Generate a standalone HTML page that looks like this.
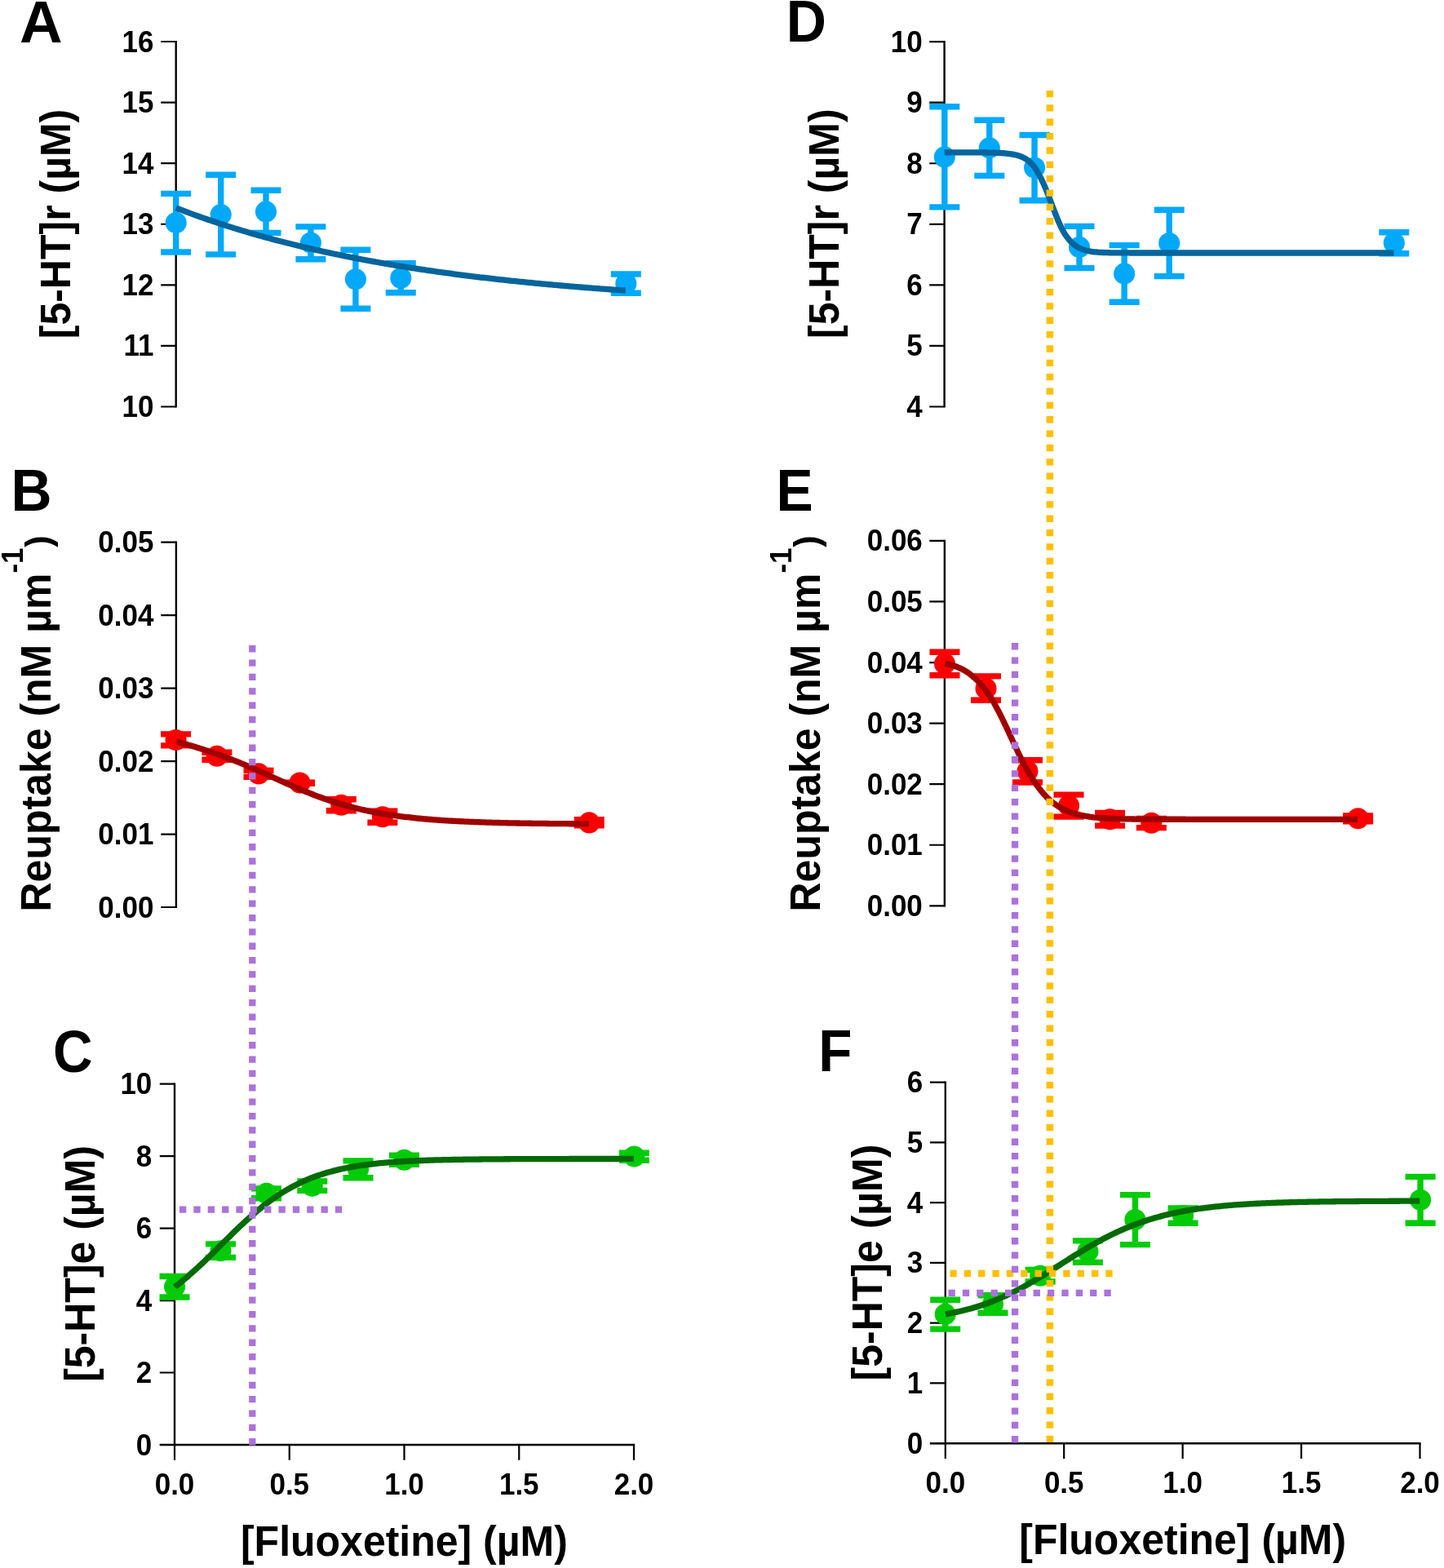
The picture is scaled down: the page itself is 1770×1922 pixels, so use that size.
<!DOCTYPE html>
<html lang="en">
<head>
<meta charset="utf-8">
<title>Fluoxetine dose-response: [5-HT]r, reuptake and [5-HT]e</title>
<style>
html,body{margin:0;padding:0;background:#fff;}
body{width:1770px;height:1922px;overflow:hidden;}
svg{display:block;}
svg text{font-family:"Liberation Sans", sans-serif;font-weight:bold;fill:#000;}
</style>
</head>
<body>
<svg width="1770" height="1922" viewBox="0 0 1770 1922">
<rect width="1770" height="1922" fill="#fff"/>
<path d="M215.7 49.9V499.6" stroke="#000" stroke-width="2.4" fill="none"/>
<text transform="translate(188.4 63.5) scale(1 1.04)" text-anchor="end" font-size="35">16</text>
<text transform="translate(188.4 138.08) scale(1 1.04)" text-anchor="end" font-size="35">15</text>
<text transform="translate(188.4 212.67) scale(1 1.04)" text-anchor="end" font-size="35">14</text>
<text transform="translate(188.4 287.25) scale(1 1.04)" text-anchor="end" font-size="35">13</text>
<text transform="translate(188.4 361.83) scale(1 1.04)" text-anchor="end" font-size="35">12</text>
<text transform="translate(188.4 436.42) scale(1 1.04)" text-anchor="end" font-size="35">11</text>
<text transform="translate(188.4 511) scale(1 1.04)" text-anchor="end" font-size="35">10</text>
<path d="M197.2 51H215.7M197.2 125.58H215.7M197.2 200.17H215.7M197.2 274.75H215.7M197.2 349.33H215.7M197.2 423.92H215.7M197.2 498.5H215.7" stroke="#000" stroke-width="2.2" fill="none"/>
<text transform="translate(24.1 51.5) scale(1.04 1.04)" font-size="70">A</text>
<text transform="translate(85.8 274.5) rotate(-90) scale(1 1.04)" text-anchor="middle" font-size="50">[5-HT]r (µM)</text>
<path d="M215.9 663.6V1113.1" stroke="#000" stroke-width="2.4" fill="none"/>
<text transform="translate(188.4 677.2) scale(1 1.04)" text-anchor="end" font-size="35">0.05</text>
<text transform="translate(188.4 766.66) scale(1 1.04)" text-anchor="end" font-size="35">0.04</text>
<text transform="translate(188.4 856.12) scale(1 1.04)" text-anchor="end" font-size="35">0.03</text>
<text transform="translate(188.4 945.58) scale(1 1.04)" text-anchor="end" font-size="35">0.02</text>
<text transform="translate(188.4 1035.04) scale(1 1.04)" text-anchor="end" font-size="35">0.01</text>
<text transform="translate(188.4 1124.5) scale(1 1.04)" text-anchor="end" font-size="35">0.00</text>
<path d="M197.3 664.7H215.9M197.3 754.16H215.9M197.3 843.62H215.9M197.3 933.08H215.9M197.3 1022.54H215.9M197.3 1112H215.9" stroke="#000" stroke-width="2.2" fill="none"/>
<text transform="translate(13.4 625.8) scale(0.99 1.04)" font-size="70">B</text>
<text transform="translate(62 1117.5) rotate(-90) scale(1 1.04)" text-anchor="start" font-size="50">Reuptake (nM µm</text>
<text transform="translate(27.9 702.6) rotate(-90) scale(1 1.04)" text-anchor="start" font-size="35">-1</text>
<text transform="translate(61.7 670.8) rotate(-90) scale(1 1.04)" text-anchor="start" font-size="43">)</text>
<path d="M214 1327.5V1772.1" stroke="#000" stroke-width="2.4" fill="none"/>
<text transform="translate(186.3 1341.1) scale(1 1.04)" text-anchor="end" font-size="35">10</text>
<text transform="translate(186.3 1429.58) scale(1 1.04)" text-anchor="end" font-size="35">8</text>
<text transform="translate(186.3 1518.06) scale(1 1.04)" text-anchor="end" font-size="35">6</text>
<text transform="translate(186.3 1606.54) scale(1 1.04)" text-anchor="end" font-size="35">4</text>
<text transform="translate(186.3 1695.02) scale(1 1.04)" text-anchor="end" font-size="35">2</text>
<text transform="translate(186.3 1783.5) scale(1 1.04)" text-anchor="end" font-size="35">0</text>
<path d="M195.8 1328.6H214M195.8 1417.08H214M195.8 1505.56H214M195.8 1594.04H214M195.8 1682.52H214M195.8 1771H214" stroke="#000" stroke-width="2.2" fill="none"/>
<path d="M195.8 1771H778.1" stroke="#000" stroke-width="2.4" fill="none"/>
<text transform="translate(214 1831.9) scale(1 1.04)" text-anchor="middle" font-size="35">0.0</text>
<text transform="translate(354.75 1831.9) scale(1 1.04)" text-anchor="middle" font-size="35">0.5</text>
<text transform="translate(495.5 1831.9) scale(1 1.04)" text-anchor="middle" font-size="35">1.0</text>
<text transform="translate(636.25 1831.9) scale(1 1.04)" text-anchor="middle" font-size="35">1.5</text>
<text transform="translate(777 1831.9) scale(1 1.04)" text-anchor="middle" font-size="35">2.0</text>
<path d="M214 1771V1789.7M354.75 1771V1789.7M495.5 1771V1789.7M636.25 1771V1789.7M777 1771V1789.7" stroke="#000" stroke-width="2.2" fill="none"/>
<text transform="translate(495.4 1906.8) scale(1 1.04)" text-anchor="middle" font-size="50">[Fluoxetine] (µM)</text>
<text transform="translate(64.95 1313.8) scale(0.96 1.04)" font-size="70">C</text>
<text transform="translate(116.1 1548.95) rotate(-90) scale(1 1.04)" text-anchor="middle" font-size="50">[5-HT]e (µM)</text>
<path d="M1157.6 50V499.6" stroke="#000" stroke-width="2.4" fill="none"/>
<text transform="translate(1130.6 63.6) scale(1 1.04)" text-anchor="end" font-size="35">10</text>
<text transform="translate(1130.6 138.17) scale(1 1.04)" text-anchor="end" font-size="35">9</text>
<text transform="translate(1130.6 212.73) scale(1 1.04)" text-anchor="end" font-size="35">8</text>
<text transform="translate(1130.6 287.3) scale(1 1.04)" text-anchor="end" font-size="35">7</text>
<text transform="translate(1130.6 361.87) scale(1 1.04)" text-anchor="end" font-size="35">6</text>
<text transform="translate(1130.6 436.43) scale(1 1.04)" text-anchor="end" font-size="35">5</text>
<text transform="translate(1130.6 511) scale(1 1.04)" text-anchor="end" font-size="35">4</text>
<path d="M1139.2 51.1H1157.6M1139.2 125.67H1157.6M1139.2 200.23H1157.6M1139.2 274.8H1157.6M1139.2 349.37H1157.6M1139.2 423.93H1157.6M1139.2 498.5H1157.6" stroke="#000" stroke-width="2.2" fill="none"/>
<text transform="translate(963.75 51) scale(0.972 1.04)" font-size="70">D</text>
<text transform="translate(1028 274.2) rotate(-90) scale(1 1.04)" text-anchor="middle" font-size="50">[5-HT]r (µM)</text>
<path d="M1157.85 661.8V1111.4" stroke="#000" stroke-width="2.4" fill="none"/>
<text transform="translate(1130.8 675.4) scale(1 1.04)" text-anchor="end" font-size="35">0.06</text>
<text transform="translate(1130.8 749.97) scale(1 1.04)" text-anchor="end" font-size="35">0.05</text>
<text transform="translate(1130.8 824.53) scale(1 1.04)" text-anchor="end" font-size="35">0.04</text>
<text transform="translate(1130.8 899.1) scale(1 1.04)" text-anchor="end" font-size="35">0.03</text>
<text transform="translate(1130.8 973.67) scale(1 1.04)" text-anchor="end" font-size="35">0.02</text>
<text transform="translate(1130.8 1048.23) scale(1 1.04)" text-anchor="end" font-size="35">0.01</text>
<text transform="translate(1130.8 1122.8) scale(1 1.04)" text-anchor="end" font-size="35">0.00</text>
<path d="M1139.3 662.9H1157.85M1139.3 737.47H1157.85M1139.3 812.03H1157.85M1139.3 886.6H1157.85M1139.3 961.17H1157.85M1139.3 1035.73H1157.85M1139.3 1110.3H1157.85" stroke="#000" stroke-width="2.2" fill="none"/>
<text transform="translate(951.6 625.5) scale(0.967 1.04)" font-size="70">E</text>
<text transform="translate(1004.5 1117.5) rotate(-90) scale(1 1.04)" text-anchor="start" font-size="50">Reuptake (nM µm</text>
<text transform="translate(970.4 702.6) rotate(-90) scale(1 1.04)" text-anchor="start" font-size="35">-1</text>
<text transform="translate(1004.2 670.8) rotate(-90) scale(1 1.04)" text-anchor="start" font-size="43">)</text>
<path d="M1158.8 1325.5V1770.3" stroke="#000" stroke-width="2.4" fill="none"/>
<text transform="translate(1131.2 1339.1) scale(1 1.04)" text-anchor="end" font-size="35">6</text>
<text transform="translate(1131.2 1412.87) scale(1 1.04)" text-anchor="end" font-size="35">5</text>
<text transform="translate(1131.2 1486.63) scale(1 1.04)" text-anchor="end" font-size="35">4</text>
<text transform="translate(1131.2 1560.4) scale(1 1.04)" text-anchor="end" font-size="35">3</text>
<text transform="translate(1131.2 1634.17) scale(1 1.04)" text-anchor="end" font-size="35">2</text>
<text transform="translate(1131.2 1707.93) scale(1 1.04)" text-anchor="end" font-size="35">1</text>
<text transform="translate(1131.2 1781.7) scale(1 1.04)" text-anchor="end" font-size="35">0</text>
<path d="M1139.9 1326.6H1158.8M1139.9 1400.37H1158.8M1139.9 1474.13H1158.8M1139.9 1547.9H1158.8M1139.9 1621.67H1158.8M1139.9 1695.43H1158.8M1139.9 1769.2H1158.8" stroke="#000" stroke-width="2.2" fill="none"/>
<path d="M1139.9 1769.2H1741.6" stroke="#000" stroke-width="2.4" fill="none"/>
<text transform="translate(1158.8 1830.1) scale(1 1.04)" text-anchor="middle" font-size="35">0.0</text>
<text transform="translate(1304.2 1830.1) scale(1 1.04)" text-anchor="middle" font-size="35">0.5</text>
<text transform="translate(1449.65 1830.1) scale(1 1.04)" text-anchor="middle" font-size="35">1.0</text>
<text transform="translate(1595.1 1830.1) scale(1 1.04)" text-anchor="middle" font-size="35">1.5</text>
<text transform="translate(1740.5 1830.1) scale(1 1.04)" text-anchor="middle" font-size="35">2.0</text>
<path d="M1158.8 1769.2V1788M1304.2 1769.2V1788M1449.65 1769.2V1788M1595.1 1769.2V1788M1740.5 1769.2V1788" stroke="#000" stroke-width="2.2" fill="none"/>
<text transform="translate(1449.7 1905.2) scale(1 1.04)" text-anchor="middle" font-size="50">[Fluoxetine] (µM)</text>
<text transform="translate(1003.3 1313.4) scale(0.963 1.04)" font-size="70">F</text>
<text transform="translate(1080.6 1547.5) rotate(-90) scale(1 1.04)" text-anchor="middle" font-size="50">[5-HT]e (µM)</text>
<path d="M215.7 237.4V309M197.2 237.4h37M197.2 309h37M270.7 214.3V311.9M252.2 214.3h37M252.2 311.9h37M326 233.2V285.4M307.5 233.2h37M307.5 285.4h37M380.9 277.9V317.8M362.4 277.9h37M362.4 317.8h37M435.9 306.3V378.3M417.4 306.3h37M417.4 378.3h37M491.3 322.8V358.7M472.8 322.8h37M472.8 358.7h37M767.3 336V359.2M748.8 336h37M748.8 359.2h37" stroke="#03A9F9" stroke-width="7.4" fill="none"/>
<circle cx="215.7" cy="273.1" r="13.05" fill="#03A9F9"/>
<circle cx="270.7" cy="263.1" r="13.05" fill="#03A9F9"/>
<circle cx="326" cy="259.4" r="13.05" fill="#03A9F9"/>
<circle cx="380.9" cy="297.6" r="13.05" fill="#03A9F9"/>
<circle cx="435.9" cy="342.3" r="13.05" fill="#03A9F9"/>
<circle cx="491.3" cy="340.7" r="13.05" fill="#03A9F9"/>
<circle cx="767.3" cy="347.4" r="13.05" fill="#03A9F9"/>
<path d="M215.6 899.9V913.9M197.1 899.9h37M197.1 913.9h37M265.9 922.3V931.2M247.4 922.3h37M247.4 931.2h37M317 944.4V952.4M298.5 944.4h37M298.5 952.4h37M367.5 959.1V960.3M349 959.1h37M349 960.3h37M418.3 979.8V993.8M399.8 979.8h37M399.8 993.8h37M468.9 994.1V1008.3M450.4 994.1h37M450.4 1008.3h37M722.2 1004.8V1011.9M703.7 1004.8h37M703.7 1011.9h37" stroke="#FB0000" stroke-width="7.4" fill="none"/>
<circle cx="215.6" cy="907" r="13.05" fill="#FB0000"/>
<circle cx="265.9" cy="926.7" r="13.05" fill="#FB0000"/>
<circle cx="317" cy="948.4" r="13.05" fill="#FB0000"/>
<circle cx="367.5" cy="959.6" r="13.05" fill="#FB0000"/>
<circle cx="418.3" cy="986.8" r="13.05" fill="#FB0000"/>
<circle cx="468.9" cy="1001.2" r="13.05" fill="#FB0000"/>
<circle cx="722.2" cy="1008.4" r="13.05" fill="#FB0000"/>
<path d="M214.05 1564.5V1590M195.55 1564.5h37M195.55 1590h37M270.5 1524.9V1541.4M252 1524.9h37M252 1541.4h37M326.55 1456.9V1468.7M308.05 1456.9h37M308.05 1468.7h37M382.8 1448V1459.4M364.3 1448h37M364.3 1459.4h37M439 1422.9V1443.7M420.5 1422.9h37M420.5 1443.7h37M495.5 1416.3V1427.3M477 1416.3h37M477 1427.3h37M777.3 1413.2V1422.3M758.8 1413.2h37M758.8 1422.3h37" stroke="#04CB08" stroke-width="7.4" fill="none"/>
<circle cx="214.05" cy="1577.2" r="13.05" fill="#04CB08"/>
<circle cx="270.5" cy="1533.2" r="13.05" fill="#04CB08"/>
<circle cx="326.55" cy="1462.8" r="13.05" fill="#04CB08"/>
<circle cx="382.8" cy="1453.7" r="13.05" fill="#04CB08"/>
<circle cx="439" cy="1433.3" r="13.05" fill="#04CB08"/>
<circle cx="495.5" cy="1421.7" r="13.05" fill="#04CB08"/>
<circle cx="777.3" cy="1417.6" r="13.05" fill="#04CB08"/>
<path d="M1157.8 130.8V253.9M1139.3 130.8h37M1139.3 253.9h37M1212.8 147.2V215.35M1194.3 147.2h37M1194.3 215.35h37M1268.05 165.5V245.8M1249.55 165.5h37M1249.55 245.8h37M1323 277.4V328.6M1304.5 277.4h37M1304.5 328.6h37M1378.15 300.6V370.2M1359.65 300.6h37M1359.65 370.2h37M1433.2 257.2V338.6M1414.7 257.2h37M1414.7 338.6h37M1708.8 284.7V310.8M1690.3 284.7h37M1690.3 310.8h37" stroke="#03A9F9" stroke-width="7.4" fill="none"/>
<circle cx="1157.8" cy="192.4" r="13.05" fill="#03A9F9"/>
<circle cx="1212.8" cy="181.2" r="13.05" fill="#03A9F9"/>
<circle cx="1268.05" cy="205.5" r="13.05" fill="#03A9F9"/>
<circle cx="1323" cy="302.9" r="13.05" fill="#03A9F9"/>
<circle cx="1378.15" cy="335.4" r="13.05" fill="#03A9F9"/>
<circle cx="1433.2" cy="298" r="13.05" fill="#03A9F9"/>
<circle cx="1708.8" cy="297.7" r="13.05" fill="#03A9F9"/>
<path d="M1158 799.3V827.7M1139.5 799.3h37M1139.5 827.7h37M1208.5 828.9V858.3M1190 828.9h37M1190 858.3h37M1259.5 931.8V959M1241 931.8h37M1241 959h37M1310.05 974.1V1001.1M1291.55 974.1h37M1291.55 1001.1h37M1360.55 996.4V1012.1M1342.05 996.4h37M1342.05 1012.1h37M1411.35 1003.4V1014.6M1392.85 1003.4h37M1392.85 1014.6h37M1664.6 999.9V1006.9M1646.1 999.9h37M1646.1 1006.9h37" stroke="#FB0000" stroke-width="7.4" fill="none"/>
<circle cx="1158" cy="813.4" r="13.05" fill="#FB0000"/>
<circle cx="1208.5" cy="843.9" r="13.05" fill="#FB0000"/>
<circle cx="1259.5" cy="945.3" r="13.05" fill="#FB0000"/>
<circle cx="1310.05" cy="987.6" r="13.05" fill="#FB0000"/>
<circle cx="1360.55" cy="1004.2" r="13.05" fill="#FB0000"/>
<circle cx="1411.35" cy="1008.8" r="13.05" fill="#FB0000"/>
<circle cx="1664.6" cy="1003.3" r="13.05" fill="#FB0000"/>
<path d="M1158.7 1593.2V1629.1M1140.2 1593.2h37M1140.2 1629.1h37M1217 1587.7V1609.3M1198.5 1587.7h37M1198.5 1609.3h37M1275.2 1556.5V1571M1256.7 1556.5h37M1256.7 1571h37M1333.4 1520.9V1547.4M1314.9 1520.9h37M1314.9 1547.4h37M1391.45 1464.6V1525.6M1372.95 1464.6h37M1372.95 1525.6h37M1450.1 1481V1499.2M1431.6 1481h37M1431.6 1499.2h37M1741.05 1442.4V1499.2M1722.55 1442.4h37M1722.55 1499.2h37" stroke="#04CB08" stroke-width="7.4" fill="none"/>
<circle cx="1158.7" cy="1610.9" r="13.05" fill="#04CB08"/>
<circle cx="1217" cy="1598.5" r="13.05" fill="#04CB08"/>
<circle cx="1275.2" cy="1563.8" r="13.05" fill="#04CB08"/>
<circle cx="1333.4" cy="1534.1" r="13.05" fill="#04CB08"/>
<circle cx="1391.45" cy="1495.1" r="13.05" fill="#04CB08"/>
<circle cx="1450.1" cy="1490.1" r="13.05" fill="#04CB08"/>
<circle cx="1741.05" cy="1470.8" r="13.05" fill="#04CB08"/>
<path d="M215.7 254.81L217.7 255.59L219.7 256.36L221.7 257.13L223.7 257.89L225.7 258.65L227.7 259.4L229.7 260.14L231.7 260.89L233.7 261.63L235.7 262.36L237.7 263.09L239.7 263.81L241.7 264.53L243.7 265.25L245.7 265.96L247.7 266.66L249.7 267.36L251.7 268.06L253.7 268.75L255.7 269.44L257.7 270.12L259.7 270.8L261.7 271.48L263.7 272.15L265.7 272.82L267.7 273.48L269.7 274.14L271.7 274.79L273.7 275.44L275.7 276.09L277.7 276.73L279.7 277.37L281.7 278L283.7 278.63L285.7 279.25L287.7 279.88L289.7 280.49L291.7 281.11L293.7 281.72L295.7 282.32L297.7 282.93L299.7 283.52L301.7 284.12L303.7 284.71L305.7 285.3L307.7 285.88L309.7 286.46L311.7 287.04L313.7 287.61L315.7 288.18L317.7 288.74L319.7 289.3L321.7 289.86L323.7 290.41L325.7 290.97L327.7 291.51L329.7 292.06L331.7 292.6L333.7 293.13L335.7 293.67L337.7 294.2L339.7 294.73L341.7 295.25L343.7 295.77L345.7 296.29L347.7 296.8L349.7 297.31L351.7 297.82L353.7 298.32L355.7 298.82L357.7 299.32L359.7 299.81L361.7 300.3L363.7 300.79L365.7 301.28L367.7 301.76L369.7 302.24L371.7 302.71L373.7 303.19L375.7 303.66L377.7 304.12L379.7 304.59L381.7 305.05L383.7 305.51L385.7 305.96L387.7 306.42L389.7 306.86L391.7 307.31L393.7 307.75L395.7 308.2L397.7 308.63L399.7 309.07L401.7 309.5L403.7 309.93L405.7 310.36L407.7 310.78L409.7 311.21L411.7 311.62L413.7 312.04L415.7 312.45L417.7 312.87L419.7 313.27L421.7 313.68L423.7 314.08L425.7 314.48L427.7 314.88L429.7 315.28L431.7 315.67L433.7 316.06L435.7 316.45L437.7 316.84L439.7 317.22L441.7 317.6L443.7 317.98L445.7 318.36L447.7 318.73L449.7 319.1L451.7 319.47L453.7 319.84L455.7 320.2L457.7 320.56L459.7 320.92L461.7 321.28L463.7 321.64L465.7 321.99L467.7 322.34L469.7 322.69L471.7 323.03L473.7 323.38L475.7 323.72L477.7 324.06L479.7 324.4L481.7 324.73L483.7 325.07L485.7 325.4L487.7 325.73L489.7 326.05L491.7 326.38L493.7 326.7L495.7 327.02L497.7 327.34L499.7 327.66L501.7 327.97L503.7 328.29L505.7 328.6L507.7 328.91L509.7 329.21L511.7 329.52L513.7 329.82L515.7 330.12L517.7 330.42L519.7 330.72L521.7 331.01L523.7 331.31L525.7 331.6L527.7 331.89L529.7 332.18L531.7 332.46L533.7 332.75L535.7 333.03L537.7 333.31L539.7 333.59L541.7 333.87L543.7 334.14L545.7 334.42L547.7 334.69L549.7 334.96L551.7 335.23L553.7 335.49L555.7 335.76L557.7 336.02L559.7 336.28L561.7 336.54L563.7 336.8L565.7 337.06L567.7 337.31L569.7 337.57L571.7 337.82L573.7 338.07L575.7 338.32L577.7 338.57L579.7 338.81L581.7 339.06L583.7 339.3L585.7 339.54L587.7 339.78L589.7 340.02L591.7 340.25L593.7 340.49L595.7 340.72L597.7 340.95L599.7 341.19L601.7 341.41L603.7 341.64L605.7 341.87L607.7 342.09L609.7 342.32L611.7 342.54L613.7 342.76L615.7 342.98L617.7 343.2L619.7 343.41L621.7 343.63L623.7 343.84L625.7 344.05L627.7 344.26L629.7 344.47L631.7 344.68L633.7 344.89L635.7 345.09L637.7 345.3L639.7 345.5L641.7 345.7L643.7 345.9L645.7 346.1L647.7 346.3L649.7 346.5L651.7 346.69L653.7 346.89L655.7 347.08L657.7 347.27L659.7 347.46L661.7 347.65L663.7 347.84L665.7 348.03L667.7 348.21L669.7 348.4L671.7 348.58L673.7 348.76L675.7 348.94L677.7 349.12L679.7 349.3L681.7 349.48L683.7 349.66L685.7 349.83L687.7 350.01L689.7 350.18L691.7 350.35L693.7 350.52L695.7 350.69L697.7 350.86L699.7 351.03L701.7 351.2L703.7 351.36L705.7 351.53L707.7 351.69L709.7 351.85L711.7 352.01L713.7 352.17L715.7 352.33L717.7 352.49L719.7 352.65L721.7 352.81L723.7 352.96L725.7 353.11L727.7 353.27L729.7 353.42L731.7 353.57L733.7 353.72L735.7 353.87L737.7 354.02L739.7 354.17L741.7 354.32L743.7 354.46L745.7 354.61L747.7 354.75L749.7 354.89L751.7 355.04L753.7 355.18L755.7 355.32L757.7 355.46L759.7 355.6L761.7 355.73L763.7 355.87L765.7 356.01L766.8 356.08" stroke="#05659C" stroke-width="7.3" fill="none" stroke-linejoin="round" stroke-linecap="butt"/>
<path d="M216 908.85L218 909.39L220 909.94L222 910.5L224 911.06L226 911.63L228 912.21L230 912.8L232 913.39L234 913.99L236 914.59L238 915.2L240 915.82L242 916.44L244 917.06L246 917.69L248 918.33L250 918.96L252 919.61L254 920.26L256 920.92L258 921.59L260 922.26L262 922.95L264 923.64L266 924.34L268 925.05L270 925.77L272 926.5L274 927.23L276 927.97L278 928.72L280 929.48L282 930.24L284 931.01L286 931.79L288 932.58L290 933.37L292 934.17L294 934.97L296 935.78L298 936.6L300 937.42L302 938.25L304 939.09L306 939.95L308 940.82L310 941.69L312 942.58L314 943.47L316 944.37L318 945.27L320 946.18L322 947.09L324 948.01L326 948.92L328 949.84L330 950.75L332 951.67L334 952.58L336 953.49L338 954.39L340 955.29L342 956.18L344 957.07L346 957.96L348 958.85L350 959.74L352 960.62L354 961.5L356 962.38L358 963.25L360 964.12L362 964.98L364 965.84L366 966.69L368 967.53L370 968.37L372 969.2L374 970.02L376 970.84L378 971.65L380 972.45L382 973.24L384 974.02L386 974.79L388 975.55L390 976.3L392 977.04L394 977.77L396 978.49L398 979.2L400 979.89L402 980.58L404 981.25L406 981.91L408 982.56L410 983.2L412 983.83L414 984.45L416 985.05L418 985.65L420 986.23L422 986.81L424 987.37L426 987.93L428 988.47L430 989L432 989.53L434 990.04L436 990.55L438 991.04L440 991.53L442 992L444 992.47L446 992.92L448 993.37L450 993.8L452 994.22L454 994.64L456 995.04L458 995.43L460 995.81L462 996.18L464 996.55L466 996.9L468 997.25L470 997.58L472 997.91L474 998.23L476 998.54L478 998.85L480 999.14L482 999.43L484 999.72L486 999.99L488 1000.26L490 1000.52L492 1000.78L494 1001.03L496 1001.27L498 1001.51L500 1001.74L502 1001.97L504 1002.2L506 1002.42L508 1002.63L510 1002.84L512 1003.05L514 1003.25L516 1003.44L518 1003.63L520 1003.81L522 1003.99L524 1004.17L526 1004.33L528 1004.5L530 1004.66L532 1004.81L534 1004.96L536 1005.11L538 1005.25L540 1005.39L542 1005.52L544 1005.65L546 1005.78L548 1005.9L550 1006.02L552 1006.14L554 1006.25L556 1006.36L558 1006.47L560 1006.57L562 1006.67L564 1006.77L566 1006.86L568 1006.96L570 1007.05L572 1007.13L574 1007.22L576 1007.3L578 1007.38L580 1007.46L582 1007.54L584 1007.61L586 1007.69L588 1007.76L590 1007.83L592 1007.9L594 1007.96L596 1008.03L598 1008.09L600 1008.16L602 1008.22L604 1008.28L606 1008.33L608 1008.39L610 1008.44L612 1008.49L614 1008.55L616 1008.6L618 1008.64L620 1008.69L622 1008.73L624 1008.78L626 1008.82L628 1008.86L630 1008.9L632 1008.94L634 1008.98L636 1009.02L638 1009.05L640 1009.09L642 1009.12L644 1009.15L646 1009.18L648 1009.21L650 1009.24L652 1009.27L654 1009.3L656 1009.33L658 1009.35L660 1009.38L662 1009.4L664 1009.43L666 1009.45L668 1009.47L670 1009.49L672 1009.51L674 1009.53L676 1009.55L678 1009.57L680 1009.59L682 1009.61L684 1009.63L686 1009.65L688 1009.66L690 1009.68L692 1009.69L694 1009.71L696 1009.72L698 1009.74L700 1009.75L702 1009.76L704 1009.78L706 1009.79L708 1009.8L710 1009.81L712 1009.83L714 1009.84L716 1009.85L718 1009.86L720 1009.87L721.8 1009.88" stroke="#A00000" stroke-width="7.3" fill="none" stroke-linejoin="round" stroke-linecap="butt"/>
<path d="M214.2 1577.61L216.2 1576.08L218.2 1574.52L220.2 1572.93L222.2 1571.32L224.2 1569.68L226.2 1568.02L228.2 1566.33L230.2 1564.61L232.2 1562.87L234.2 1561.11L236.2 1559.33L238.2 1557.53L240.2 1555.7L242.2 1553.86L244.2 1552L246.2 1550.12L248.2 1548.23L250.2 1546.32L252.2 1544.39L254.2 1542.46L256.2 1540.51L258.2 1538.55L260.2 1536.59L262.2 1534.62L264.2 1532.64L266.2 1530.66L268.2 1528.67L270.2 1526.69L272.2 1524.7L274.2 1522.71L276.2 1520.73L278.2 1518.75L280.2 1516.78L282.2 1514.81L284.2 1512.85L286.2 1510.9L288.2 1508.96L290.2 1507.03L292.2 1505.12L294.2 1503.22L296.2 1501.34L298.2 1499.47L300.2 1497.62L302.2 1495.79L304.2 1493.98L306.2 1492.19L308.2 1490.42L310.2 1488.68L312.2 1486.95L314.2 1485.26L316.2 1483.58L318.2 1481.93L320.2 1480.31L322.2 1478.71L324.2 1477.14L326.2 1475.6L328.2 1474.09L330.2 1472.6L332.2 1471.14L334.2 1469.71L336.2 1468.31L338.2 1466.93L340.2 1465.59L342.2 1464.27L344.2 1462.98L346.2 1461.72L348.2 1460.49L350.2 1459.29L352.2 1458.12L354.2 1456.97L356.2 1455.85L358.2 1454.76L360.2 1453.7L362.2 1452.66L364.2 1451.65L366.2 1450.67L368.2 1449.71L370.2 1448.78L372.2 1447.87L374.2 1446.99L376.2 1446.14L378.2 1445.3L380.2 1444.49L382.2 1443.71L384.2 1442.94L386.2 1442.2L388.2 1441.48L390.2 1440.78L392.2 1440.11L394.2 1439.45L396.2 1438.81L398.2 1438.19L400.2 1437.59L402.2 1437.01L404.2 1436.45L406.2 1435.91L408.2 1435.38L410.2 1434.87L412.2 1434.37L414.2 1433.89L416.2 1433.43L418.2 1432.98L420.2 1432.55L422.2 1432.13L424.2 1431.72L426.2 1431.33L428.2 1430.95L430.2 1430.58L432.2 1430.23L434.2 1429.88L436.2 1429.55L438.2 1429.23L440.2 1428.92L442.2 1428.62L444.2 1428.33L446.2 1428.06L448.2 1427.79L450.2 1427.53L452.2 1427.27L454.2 1427.03L456.2 1426.8L458.2 1426.57L460.2 1426.35L462.2 1426.14L464.2 1425.94L466.2 1425.74L468.2 1425.55L470.2 1425.37L472.2 1425.19L474.2 1425.02L476.2 1424.86L478.2 1424.7L480.2 1424.55L482.2 1424.4L484.2 1424.26L486.2 1424.12L488.2 1423.99L490.2 1423.86L492.2 1423.74L494.2 1423.62L496.2 1423.5L498.2 1423.39L500.2 1423.29L502.2 1423.18L504.2 1423.08L506.2 1422.99L508.2 1422.9L510.2 1422.81L512.2 1422.72L514.2 1422.64L516.2 1422.56L518.2 1422.48L520.2 1422.41L522.2 1422.34L524.2 1422.27L526.2 1422.2L528.2 1422.14L530.2 1422.08L532.2 1422.02L534.2 1421.96L536.2 1421.91L538.2 1421.85L540.2 1421.8L542.2 1421.75L544.2 1421.71L546.2 1421.66L548.2 1421.62L550.2 1421.57L552.2 1421.53L554.2 1421.49L556.2 1421.45L558.2 1421.42L560.2 1421.38L562.2 1421.35L564.2 1421.32L566.2 1421.28L568.2 1421.25L570.2 1421.22L572.2 1421.2L574.2 1421.17L576.2 1421.14L578.2 1421.12L580.2 1421.09L582.2 1421.07L584.2 1421.05L586.2 1421.03L588.2 1421L590.2 1420.98L592.2 1420.96L594.2 1420.95L596.2 1420.93L598.2 1420.91L600.2 1420.89L602.2 1420.88L604.2 1420.86L606.2 1420.85L608.2 1420.83L610.2 1420.82L612.2 1420.8L614.2 1420.79L616.2 1420.78L618.2 1420.77L620.2 1420.76L622.2 1420.74L624.2 1420.73L626.2 1420.72L628.2 1420.71L630.2 1420.7L632.2 1420.69L634.2 1420.69L636.2 1420.68L638.2 1420.67L640.2 1420.66L642.2 1420.65L644.2 1420.65L646.2 1420.64L648.2 1420.63L650.2 1420.63L652.2 1420.62L654.2 1420.61L656.2 1420.61L658.2 1420.6L660.2 1420.6L662.2 1420.59L664.2 1420.59L666.2 1420.58L668.2 1420.58L670.2 1420.57L672.2 1420.57L674.2 1420.56L676.2 1420.56L678.2 1420.55L680.2 1420.55L682.2 1420.55L684.2 1420.54L686.2 1420.54L688.2 1420.54L690.2 1420.53L692.2 1420.53L694.2 1420.53L696.2 1420.53L698.2 1420.52L700.2 1420.52L702.2 1420.52L704.2 1420.52L706.2 1420.51L708.2 1420.51L710.2 1420.51L712.2 1420.51L714.2 1420.5L716.2 1420.5L718.2 1420.5L720.2 1420.5L722.2 1420.5L724.2 1420.5L726.2 1420.49L728.2 1420.49L730.2 1420.49L732.2 1420.49L734.2 1420.49L736.2 1420.49L738.2 1420.49L740.2 1420.48L742.2 1420.48L744.2 1420.48L746.2 1420.48L748.2 1420.48L750.2 1420.48L752.2 1420.48L754.2 1420.48L756.2 1420.48L758.2 1420.47L760.2 1420.47L762.2 1420.47L764.2 1420.47L766.2 1420.47L768.2 1420.47L770.2 1420.47L772.2 1420.47L774.2 1420.47L776.2 1420.47L776.9 1420.47" stroke="#046A06" stroke-width="7.3" fill="none" stroke-linejoin="round" stroke-linecap="butt"/>
<path d="M1157.6 186.81L1159.6 186.81L1161.6 186.81L1163.6 186.82L1165.6 186.82L1167.6 186.82L1169.6 186.82L1171.6 186.82L1173.6 186.82L1175.6 186.82L1177.6 186.83L1179.6 186.83L1181.6 186.83L1183.6 186.84L1185.6 186.84L1187.6 186.85L1189.6 186.85L1191.6 186.86L1193.6 186.87L1195.6 186.88L1197.6 186.89L1199.6 186.9L1201.6 186.92L1203.6 186.94L1205.6 186.96L1207.6 186.98L1209.6 187.01L1211.6 187.05L1213.6 187.09L1215.6 187.13L1217.6 187.19L1219.6 187.25L1221.6 187.32L1223.6 187.41L1225.6 187.51L1227.6 187.62L1229.6 187.76L1231.6 187.92L1233.6 188.1L1235.6 188.31L1237.6 188.56L1239.6 188.85L1241.6 189.19L1243.6 189.59L1245.6 190.04L1247.6 190.58L1249.6 191.21L1251.6 191.95L1253.6 192.81L1255.6 193.81L1257.6 194.98L1259.6 196.33L1261.6 197.9L1263.6 199.73L1265.6 201.89L1267.6 204.41L1269.6 207.3L1271.6 210.55L1273.6 214.11L1275.6 217.91L1277.6 221.93L1279.6 226.27L1281.6 230.91L1283.6 235.81L1285.6 240.9L1287.6 246.14L1289.6 251.44L1291.6 256.72L1293.6 261.91L1295.6 266.93L1297.6 271.72L1299.6 276.21L1301.6 280.34L1303.6 284.05L1305.6 287.35L1307.6 290.28L1309.6 292.88L1311.6 295.19L1313.6 297.22L1315.6 299.03L1317.6 300.61L1319.6 302.01L1321.6 303.21L1323.6 304.24L1325.6 305.12L1327.6 305.88L1329.6 306.52L1331.6 307.07L1333.6 307.53L1335.6 307.93L1337.6 308.27L1339.6 308.55L1341.6 308.79L1343.6 308.99L1345.6 309.15L1347.6 309.29L1349.6 309.41L1351.6 309.51L1353.6 309.59L1355.6 309.66L1357.6 309.71L1359.6 309.76L1361.6 309.8L1363.6 309.83L1365.6 309.86L1367.6 309.88L1369.6 309.9L1371.6 309.92L1373.6 309.93L1375.6 309.94L1377.6 309.95L1379.6 309.96L1381.6 309.97L1383.6 309.97L1385.6 309.98L1387.6 309.98L1389.6 309.98L1391.6 309.99L1393.6 309.99L1395.6 309.99L1397.6 309.99L1399.6 309.99L1401.6 309.99L1403.6 310L1405.6 310L1407.6 310L1409.6 310L1411.6 310L1413.6 310L1415.6 310L1417.6 310L1419.6 310L1421.6 310L1423.6 310L1425.6 310L1427.6 310L1429.6 310L1431.6 310L1433.6 310L1435.6 310L1437.6 310L1439.6 310L1441.6 310L1443.6 310L1445.6 310L1447.6 310L1449.6 310L1451.6 310L1453.6 310L1455.6 310L1457.6 310L1459.6 310L1461.6 310L1463.6 310L1465.6 310L1467.6 310L1469.6 310L1471.6 310L1473.6 310L1475.6 310L1477.6 310L1479.6 310L1481.6 310L1483.6 310L1485.6 310L1487.6 310L1489.6 310L1491.6 310L1493.6 310L1495.6 310L1497.6 310L1499.6 310L1501.6 310L1503.6 310L1505.6 310L1507.6 310L1509.6 310L1511.6 310L1513.6 310L1515.6 310L1517.6 310L1519.6 310L1521.6 310L1523.6 310L1525.6 310L1527.6 310L1529.6 310L1531.6 310L1533.6 310L1535.6 310L1537.6 310L1539.6 310L1541.6 310L1543.6 310L1545.6 310L1547.6 310L1549.6 310L1551.6 310L1553.6 310L1555.6 310L1557.6 310L1559.6 310L1561.6 310L1563.6 310L1565.6 310L1567.6 310L1569.6 310L1571.6 310L1573.6 310L1575.6 310L1577.6 310L1579.6 310L1581.6 310L1583.6 310L1585.6 310L1587.6 310L1589.6 310L1591.6 310L1593.6 310L1595.6 310L1597.6 310L1599.6 310L1601.6 310L1603.6 310L1605.6 310L1607.6 310L1609.6 310L1611.6 310L1613.6 310L1615.6 310L1617.6 310L1619.6 310L1621.6 310L1623.6 310L1625.6 310L1627.6 310L1629.6 310L1631.6 310L1633.6 310L1635.6 310L1637.6 310L1639.6 310L1641.6 310L1643.6 310L1645.6 310L1647.6 310L1649.6 310L1651.6 310L1653.6 310L1655.6 310L1657.6 310L1659.6 310L1661.6 310L1663.6 310L1665.6 310L1667.6 310L1669.6 310L1671.6 310L1673.6 310L1675.6 310L1677.6 310L1679.6 310L1681.6 310L1683.6 310L1685.6 310L1687.6 310L1689.6 310L1691.6 310L1693.6 310L1695.6 310L1697.6 310L1699.6 310L1701.6 310L1703.6 310L1705.6 310L1707.6 310L1708.5 310" stroke="#05659C" stroke-width="7.3" fill="none" stroke-linejoin="round" stroke-linecap="butt"/>
<path d="M1158.3 813.2L1160.3 813.64L1162.3 814.12L1164.3 814.65L1166.3 815.21L1168.3 815.82L1170.3 816.49L1172.3 817.21L1174.3 818L1176.3 818.85L1178.3 819.77L1180.3 820.78L1182.3 821.88L1184.3 823.08L1186.3 824.39L1188.3 825.8L1190.3 827.32L1192.3 828.95L1194.3 830.68L1196.3 832.52L1198.3 834.46L1200.3 836.52L1202.3 838.7L1204.3 841.02L1206.3 843.48L1208.3 846.1L1210.3 848.87L1212.3 851.8L1214.3 854.88L1216.3 858.12L1218.3 861.51L1220.3 865.05L1222.3 868.73L1224.3 872.54L1226.3 876.47L1228.3 880.5L1230.3 884.61L1232.3 888.8L1234.3 893.04L1236.3 897.32L1238.3 901.62L1240.3 905.94L1242.3 910.25L1244.3 914.53L1246.3 918.77L1248.3 922.97L1250.3 927.09L1252.3 931.12L1254.3 935.04L1256.3 938.83L1258.3 942.5L1260.3 946.04L1262.3 949.44L1264.3 952.71L1266.3 955.85L1268.3 958.85L1270.3 961.72L1272.3 964.47L1274.3 967.09L1276.3 969.59L1278.3 971.96L1280.3 974.2L1282.3 976.31L1284.3 978.29L1286.3 980.15L1288.3 981.9L1290.3 983.54L1292.3 985.07L1294.3 986.49L1296.3 987.83L1298.3 989.07L1300.3 990.22L1302.3 991.29L1304.3 992.29L1306.3 993.21L1308.3 994.07L1310.3 994.86L1312.3 995.6L1314.3 996.28L1316.3 996.92L1318.3 997.51L1320.3 998.06L1322.3 998.57L1324.3 999.04L1326.3 999.49L1328.3 999.9L1330.3 1000.28L1332.3 1000.64L1334.3 1000.97L1336.3 1001.28L1338.3 1001.57L1340.3 1001.83L1342.3 1002.04L1344.3 1002.22L1346.3 1002.39L1348.3 1002.55L1350.3 1002.69L1352.3 1002.82L1354.3 1002.94L1356.3 1003.06L1358.3 1003.16L1360.3 1003.25L1362.3 1003.34L1364.3 1003.42L1366.3 1003.49L1368.3 1003.56L1370.3 1003.62L1372.3 1003.67L1374.3 1003.72L1376.3 1003.77L1378.3 1003.81L1380.3 1003.85L1382.3 1003.89L1384.3 1003.92L1386.3 1003.95L1388.3 1003.98L1390.3 1004.01L1392.3 1004.03L1394.3 1004.05L1396.3 1004.07L1398.3 1004.09L1400.3 1004.11L1402.3 1004.12L1404.3 1004.14L1406.3 1004.15L1408.3 1004.16L1410.3 1004.17L1412.3 1004.18L1414.3 1004.19L1416.3 1004.2L1418.3 1004.21L1420.3 1004.22L1422.3 1004.22L1424.3 1004.23L1426.3 1004.23L1428.3 1004.24L1430.3 1004.24L1432.3 1004.25L1434.3 1004.25L1436.3 1004.26L1438.3 1004.26L1440.3 1004.26L1442.3 1004.26L1444.3 1004.27L1446.3 1004.27L1448.3 1004.27L1450.3 1004.27L1452.3 1004.27L1454.3 1004.28L1456.3 1004.28L1458.3 1004.28L1460.3 1004.28L1462.3 1004.28L1464.3 1004.28L1466.3 1004.28L1468.3 1004.28L1470.3 1004.29L1472.3 1004.29L1474.3 1004.29L1476.3 1004.29L1478.3 1004.29L1480.3 1004.29L1482.3 1004.29L1484.3 1004.29L1486.3 1004.29L1488.3 1004.29L1490.3 1004.29L1492.3 1004.29L1494.3 1004.29L1496.3 1004.29L1498.3 1004.29L1500.3 1004.29L1502.3 1004.29L1504.3 1004.29L1506.3 1004.29L1508.3 1004.29L1510.3 1004.29L1512.3 1004.29L1514.3 1004.29L1516.3 1004.29L1518.3 1004.29L1520.3 1004.29L1522.3 1004.29L1524.3 1004.29L1526.3 1004.29L1528.3 1004.29L1530.3 1004.29L1532.3 1004.29L1534.3 1004.29L1536.3 1004.29L1538.3 1004.29L1540.3 1004.29L1542.3 1004.29L1544.3 1004.29L1546.3 1004.29L1548.3 1004.29L1550.3 1004.29L1552.3 1004.29L1554.3 1004.29L1556.3 1004.29L1558.3 1004.29L1560.3 1004.29L1562.3 1004.29L1564.3 1004.29L1566.3 1004.29L1568.3 1004.29L1570.3 1004.29L1572.3 1004.29L1574.3 1004.29L1576.3 1004.29L1578.3 1004.29L1580.3 1004.29L1582.3 1004.29L1584.3 1004.29L1586.3 1004.29L1588.3 1004.29L1590.3 1004.29L1592.3 1004.29L1594.3 1004.29L1596.3 1004.29L1598.3 1004.29L1600.3 1004.29L1602.3 1004.29L1604.3 1004.29L1606.3 1004.29L1608.3 1004.29L1610.3 1004.29L1612.3 1004.29L1614.3 1004.29L1616.3 1004.29L1618.3 1004.29L1620.3 1004.29L1622.3 1004.29L1624.3 1004.29L1626.3 1004.29L1628.3 1004.29L1630.3 1004.29L1632.3 1004.29L1634.3 1004.29L1636.3 1004.29L1638.3 1004.29L1640.3 1004.29L1642.3 1004.29L1644.3 1004.29L1646.3 1004.29L1648.3 1004.29L1650.3 1004.29L1652.3 1004.29L1654.3 1004.29L1656.3 1004.29L1658.3 1004.29L1660.3 1004.29L1662.3 1004.29L1664 1004.29" stroke="#A00000" stroke-width="7.3" fill="none" stroke-linejoin="round" stroke-linecap="butt"/>
<path d="M1158.9 1610.85L1160.9 1610.5L1162.9 1610.14L1164.9 1609.76L1166.9 1609.38L1168.9 1608.98L1170.9 1608.57L1172.9 1608.14L1174.9 1607.7L1176.9 1607.25L1178.9 1606.79L1180.9 1606.31L1182.9 1605.81L1184.9 1605.31L1186.9 1604.78L1188.9 1604.24L1190.9 1603.69L1192.9 1603.12L1194.9 1602.54L1196.9 1601.94L1198.9 1601.32L1200.9 1600.68L1202.9 1600.03L1204.9 1599.37L1206.9 1598.68L1208.9 1597.98L1210.9 1597.26L1212.9 1596.53L1214.9 1595.78L1216.9 1595L1218.9 1594.22L1220.9 1593.41L1222.9 1592.59L1224.9 1591.75L1226.9 1590.89L1228.9 1590.01L1230.9 1589.12L1232.9 1588.21L1234.9 1587.28L1236.9 1586.33L1238.9 1585.37L1240.9 1584.39L1242.9 1583.4L1244.9 1582.39L1246.9 1581.36L1248.9 1580.32L1250.9 1579.26L1252.9 1578.19L1254.9 1577.1L1256.9 1576L1258.9 1574.88L1260.9 1573.75L1262.9 1572.61L1264.9 1571.46L1266.9 1570.29L1268.9 1569.11L1270.9 1567.93L1272.9 1566.73L1274.9 1565.52L1276.9 1564.31L1278.9 1563.08L1280.9 1561.85L1282.9 1560.61L1284.9 1559.37L1286.9 1558.12L1288.9 1556.87L1290.9 1555.61L1292.9 1554.35L1294.9 1553.08L1296.9 1551.82L1298.9 1550.55L1300.9 1549.28L1302.9 1548.02L1304.9 1546.75L1306.9 1545.48L1308.9 1544.22L1310.9 1542.96L1312.9 1541.71L1314.9 1540.46L1316.9 1539.21L1318.9 1537.97L1320.9 1536.74L1322.9 1535.52L1324.9 1534.3L1326.9 1533.09L1328.9 1531.89L1330.9 1530.7L1332.9 1529.51L1334.9 1528.34L1336.9 1527.18L1338.9 1526.03L1340.9 1524.9L1342.9 1523.77L1344.9 1522.66L1346.9 1521.56L1348.9 1520.47L1350.9 1519.4L1352.9 1518.34L1354.9 1517.3L1356.9 1516.27L1358.9 1515.25L1360.9 1514.25L1362.9 1513.27L1364.9 1512.3L1366.9 1511.34L1368.9 1510.4L1370.9 1509.48L1372.9 1508.57L1374.9 1507.68L1376.9 1506.8L1378.9 1505.94L1380.9 1505.1L1382.9 1504.27L1384.9 1503.45L1386.9 1502.66L1388.9 1501.87L1390.9 1501.11L1392.9 1500.36L1394.9 1499.62L1396.9 1498.9L1398.9 1498.2L1400.9 1497.51L1402.9 1496.83L1404.9 1496.17L1406.9 1495.52L1408.9 1494.89L1410.9 1494.28L1412.9 1493.67L1414.9 1493.08L1416.9 1492.51L1418.9 1491.95L1420.9 1491.4L1422.9 1490.86L1424.9 1490.34L1426.9 1489.83L1428.9 1489.33L1430.9 1488.85L1432.9 1488.38L1434.9 1487.92L1436.9 1487.47L1438.9 1487.03L1440.9 1486.6L1442.9 1486.19L1444.9 1485.78L1446.9 1485.39L1448.9 1485L1450.9 1484.63L1452.9 1484.27L1454.9 1483.91L1456.9 1483.57L1458.9 1483.23L1460.9 1482.91L1462.9 1482.59L1464.9 1482.28L1466.9 1481.98L1468.9 1481.69L1470.9 1481.4L1472.9 1481.13L1474.9 1480.86L1476.9 1480.6L1478.9 1480.34L1480.9 1480.1L1482.9 1479.86L1484.9 1479.62L1486.9 1479.4L1488.9 1479.18L1490.9 1478.96L1492.9 1478.76L1494.9 1478.55L1496.9 1478.36L1498.9 1478.17L1500.9 1477.98L1502.9 1477.8L1504.9 1477.63L1506.9 1477.46L1508.9 1477.3L1510.9 1477.14L1512.9 1476.98L1514.9 1476.83L1516.9 1476.69L1518.9 1476.55L1520.9 1476.41L1522.9 1476.28L1524.9 1476.15L1526.9 1476.02L1528.9 1475.9L1530.9 1475.78L1532.9 1475.67L1534.9 1475.56L1536.9 1475.45L1538.9 1475.34L1540.9 1475.24L1542.9 1475.14L1544.9 1475.05L1546.9 1474.96L1548.9 1474.87L1550.9 1474.78L1552.9 1474.69L1554.9 1474.61L1556.9 1474.53L1558.9 1474.46L1560.9 1474.38L1562.9 1474.31L1564.9 1474.24L1566.9 1474.17L1568.9 1474.1L1570.9 1474.04L1572.9 1473.98L1574.9 1473.92L1576.9 1473.86L1578.9 1473.8L1580.9 1473.75L1582.9 1473.69L1584.9 1473.64L1586.9 1473.59L1588.9 1473.54L1590.9 1473.5L1592.9 1473.45L1594.9 1473.41L1596.9 1473.36L1598.9 1473.32L1600.9 1473.28L1602.9 1473.24L1604.9 1473.21L1606.9 1473.17L1608.9 1473.13L1610.9 1473.1L1612.9 1473.07L1614.9 1473.03L1616.9 1473L1618.9 1472.97L1620.9 1472.94L1622.9 1472.91L1624.9 1472.89L1626.9 1472.86L1628.9 1472.83L1630.9 1472.81L1632.9 1472.78L1634.9 1472.76L1636.9 1472.74L1638.9 1472.71L1640.9 1472.69L1642.9 1472.67L1644.9 1472.65L1646.9 1472.63L1648.9 1472.61L1650.9 1472.6L1652.9 1472.58L1654.9 1472.56L1656.9 1472.54L1658.9 1472.53L1660.9 1472.51L1662.9 1472.5L1664.9 1472.48L1666.9 1472.47L1668.9 1472.45L1670.9 1472.44L1672.9 1472.43L1674.9 1472.41L1676.9 1472.4L1678.9 1472.39L1680.9 1472.38L1682.9 1472.37L1684.9 1472.36L1686.9 1472.35L1688.9 1472.34L1690.9 1472.33L1692.9 1472.32L1694.9 1472.31L1696.9 1472.3L1698.9 1472.29L1700.9 1472.28L1702.9 1472.27L1704.9 1472.27L1706.9 1472.26L1708.9 1472.25L1710.9 1472.24L1712.9 1472.24L1714.9 1472.23L1716.9 1472.22L1718.9 1472.22L1720.9 1472.21L1722.9 1472.21L1724.9 1472.2L1726.9 1472.19L1728.9 1472.19L1730.9 1472.18L1732.9 1472.18L1734.9 1472.17L1736.9 1472.17L1738.9 1472.16L1740.2 1472.16" stroke="#046A06" stroke-width="7.3" fill="none" stroke-linejoin="round" stroke-linecap="butt"/>
<path d="M1286.9 110.9V1770.5" stroke="#FDC003" stroke-width="8.6" stroke-dasharray="8.3 9.057" fill="none"/>
<path d="M1164.4 1560.9H1363.8" stroke="#FDC003" stroke-width="8.5" stroke-dasharray="8.3 9.057" fill="none"/>
<path d="M309.3 791.1V1772.2" stroke="#AB72DC" stroke-width="8.3" stroke-dasharray="8.3 9.057" fill="none"/>
<path d="M1244.05 788.1V1770.5" stroke="#AB72DC" stroke-width="8.3" stroke-dasharray="8.3 9.057" fill="none"/>
<path d="M220 1482.7H419.8" stroke="#AB72DC" stroke-width="8.3" stroke-dasharray="8.3 9.057" fill="none"/>
<path d="M1162.5 1584.9H1362.3" stroke="#AB72DC" stroke-width="8.3" stroke-dasharray="8.3 9.057" fill="none"/>
</svg>
</body>
</html>
